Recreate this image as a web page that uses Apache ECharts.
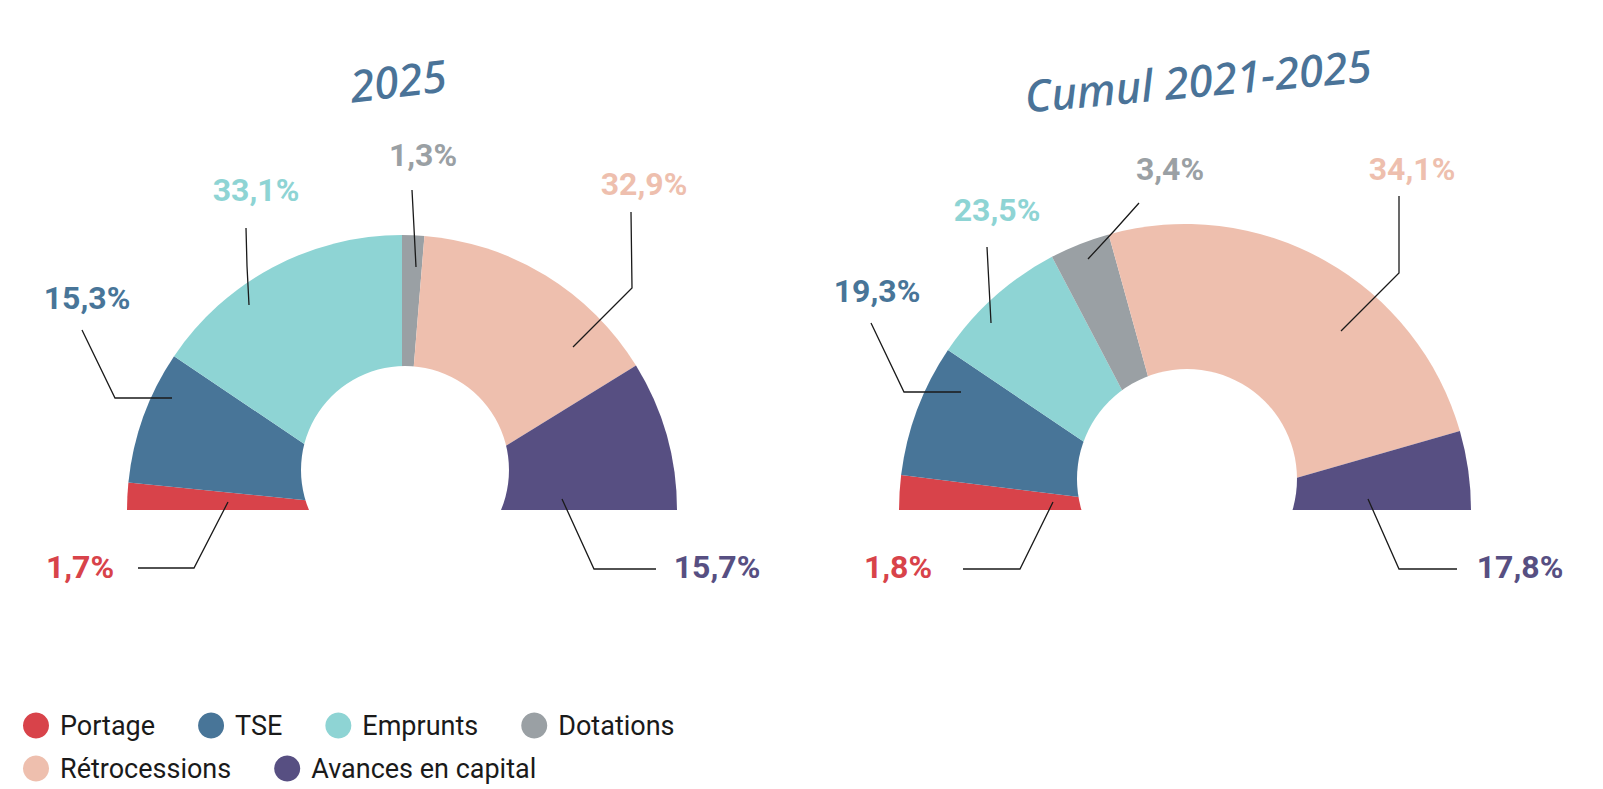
<!DOCTYPE html>
<html>
<head>
<meta charset="utf-8">
<title>Ressources 2025 / Cumul 2021-2025</title>
<script src="https://cdn.jsdelivr.net/npm/echarts@6/dist/echarts.min.js"></script>
<style>
  html, body { margin: 0; padding: 0; background: #fff; }
  #chart { width: 1603px; height: 789px; }
</style>
</head>
<body>
<div id="chart"></div>
<script>
var categories = ['Portage', 'TSE', 'Emprunts', 'Dotations', 'Rétrocessions', 'Avances en capital'];

// printed shares (%)
var shares2025 = [1.7, 15.3, 33.1, 1.3, 32.9, 15.7];
var sharesCumul = [1.8, 19.3, 23.5, 3.4, 34.1, 17.8];

// slice sizes as they are drawn in the reference (share of the half ring, %)
var slices2025 = [3.2, 15.7, 31.1, 2.6, 29.8, 17.6];
var slicesCumul = [3.9, 15.0, 15.7, 6.8, 49.7, 8.9];

var titles = ['2025', 'Cumul 2021-2025'];

(function () {
  var colours = ['#d8434a', '#487598', '#8ed4d4', '#9aa0a4', '#eebfae', '#574f82'];
  var ink = '#1a1a1a';
  var titleBlue = '#4a7398';

  // leader lines and label centres, relative to each pie centre
  var leaders2025 = [
    { line: [[-174, -8], [-208, 58], [-264, 58]], text: [-322, 57] },
    { line: [[-230, -112], [-287, -112], [-320, -180]], text: [-315, -212] },
    { line: [[-153, -205], [-155, -244], [-156, -282]], text: [-146, -320] },
    { line: [[14, -243], [12, -282], [10, -320]], text: [21, -355] },
    { line: [[171, -163], [230, -222], [229, -298]], text: [242, -326] },
    { line: [[160, -11], [192, 59], [254, 59]], text: [315, 57] }
  ];
  var leadersCumul = [
    { line: [[-132, -8], [-165, 59], [-222, 59]], text: [-287, 57] },
    { line: [[-224, -118], [-281, -118], [-314, -187]], text: [-308, -219] },
    { line: [[-194, -187], [-196, -225], [-198, -263]], text: [-188, -300] },
    { line: [[-97, -251], [-71, -279], [-46, -307]], text: [-15, -341] },
    { line: [[156, -179], [214, -237], [214, -314]], text: [227, -341] },
    { line: [[183, -11], [214, 59], [272, 59]], text: [335, 57] }
  ];

  var centre2025 = [402, 510];
  var centreCumul = [1185, 510];

  function pct(v) {
    return v.toFixed(1).replace('.', ',') + '%';
  }

  function pieData(values, shares) {
    return values.map(function (v, i) {
      return {
        name: categories[i],
        value: v,
        itemStyle: { color: colours[i] },
        label: { color: colours[i], formatter: pct(shares[i]) }
      };
    });
  }

  function placeLabels(leaders, centre) {
    return function (params) {
      var d = leaders[params.dataIndex];
      if (!d) return {};
      return {
        x: centre[0] + d.text[0],
        y: centre[1] + d.text[1],
        align: 'center',
        verticalAlign: 'middle'
      };
    };
  }

  // leader lines go into the slices, so they are drawn above the pies
  function leaderLines(leaders, centre) {
    return leaders.map(function (d) {
      return {
        type: 'polyline',
        z: 100,
        silent: true,
        shape: {
          points: d.line.map(function (p) {
            return [centre[0] + p[0], centre[1] + p[1]];
          })
        },
        style: { stroke: ink, lineWidth: 1.3, fill: null }
      };
    });
  }

  function ring(centre, r, values, shares, leaders) {
    return {
      type: 'pie',
      center: centre,
      radius: [0, r],
      startAngle: 180,
      endAngle: 360,
      avoidLabelOverlap: false,
      label: {
        show: true,
        position: 'outside',
        fontFamily: 'Roboto',
        fontWeight: 'bold',
        fontSize: 32
      },
      labelLine: { show: false },
      labelLayout: placeLabels(leaders, centre),
      emphasis: { disabled: true },
      data: pieData(values, shares)
    };
  }

  function hole(centre, r) {
    return {
      type: 'pie',
      center: centre,
      radius: [0, r],
      silent: true,
      label: { show: false },
      labelLine: { show: false },
      emphasis: { disabled: true },
      itemStyle: { color: '#ffffff' },
      data: [{ name: 'hole', value: 1 }]
    };
  }

  function legend(names, top) {
    return {
      left: 18,
      top: top,
      orient: 'horizontal',
      icon: 'circle',
      itemWidth: 38,
      itemHeight: 26,
      itemGap: 43,
      selectedMode: false,
      textStyle: { color: ink, fontFamily: 'Roboto', fontSize: 27 },
      data: names
    };
  }

  var titleStyle = {
    fill: titleBlue, align: 'center', verticalAlign: 'middle',
    fontFamily: 'Noto Sans', fontStyle: 'italic', fontWeight: 500, fontSize: 44
  };

  var chart = echarts.init(document.getElementById('chart'), null, { renderer: 'svg' });
  chart.setOption({
    animation: false,
    graphic: [
      { type: 'text', x: 398, y: 80, rotation: 0.12, style: Object.assign({ text: titles[0] }, titleStyle) },
      { type: 'text', x: 1198, y: 80, rotation: 0.09, style: Object.assign({ text: titles[1] }, titleStyle) }
    ].concat(leaderLines(leaders2025, centre2025), leaderLines(leadersCumul, centreCumul)),
    legend: [
      legend(categories.slice(0, 4), 707),
      legend(categories.slice(4), 750)
    ],
    series: [
      ring(centre2025, 275, slices2025, shares2025, leaders2025),
      ring(centreCumul, 286, slicesCumul, sharesCumul, leadersCumul),
      hole([405, 470], 104),
      hole([1187, 479], 110)
    ]
  });
  window.addEventListener('resize', function () { chart.resize(); });
})();
</script>
</body>
</html>
